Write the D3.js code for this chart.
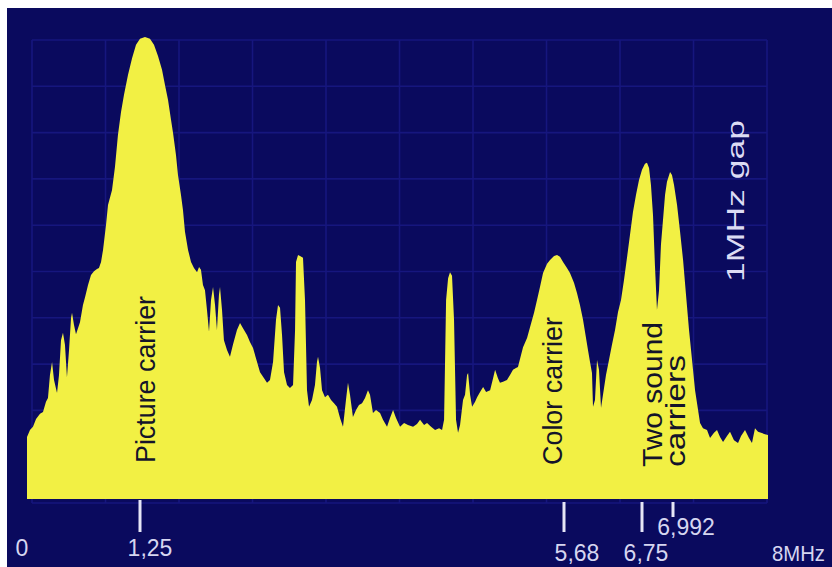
<!DOCTYPE html>
<html><head><meta charset="utf-8">
<script src="https://cdn.jsdelivr.net/npm/d3@7/dist/d3.min.js"></script>
<style>html,body{margin:0;padding:0;background:#fff;}svg{display:block;}</style>
</head><body>
<svg id="c" width="832" height="567"></svg>
<script>
// ---- data ----
const freqMHz = [0.000,0.033,0.066,0.100,0.144,0.177,0.210,0.232,0.254,0.277,0.299,0.332,0.354,0.376,0.398,0.420,0.442,0.465,0.487,0.498,0.520,0.542,0.564,0.586,0.619,0.642,0.675,0.708,0.741,0.774,0.796,0.819,0.841,0.874,0.896,0.940,0.973,1.006,1.040,1.073,1.117,1.162,1.206,1.250,1.302,1.354,1.396,1.438,1.480,1.511,1.543,1.574,1.595,1.626,1.647,1.678,1.699,1.720,1.752,1.783,1.814,1.846,1.867,1.887,1.908,1.929,1.950,1.971,1.992,2.013,2.034,2.054,2.075,2.086,2.107,2.127,2.159,2.190,2.221,2.263,2.295,2.326,2.368,2.399,2.431,2.473,2.504,2.546,2.577,2.608,2.640,2.671,2.692,2.713,2.734,2.755,2.786,2.817,2.849,2.870,2.880,2.901,2.922,2.953,2.974,2.995,3.016,3.047,3.078,3.099,3.110,3.131,3.152,3.183,3.214,3.246,3.277,3.308,3.340,3.371,3.402,3.423,3.444,3.475,3.507,3.538,3.570,3.601,3.632,3.653,3.684,3.716,3.758,3.789,3.831,3.862,3.894,3.925,3.967,4.009,4.050,4.103,4.144,4.176,4.218,4.249,4.291,4.333,4.375,4.406,4.427,4.448,4.469,4.489,4.510,4.531,4.552,4.573,4.594,4.625,4.646,4.667,4.678,4.699,4.720,4.751,4.772,4.803,4.835,4.866,4.908,4.939,4.960,4.990,5.011,5.043,5.084,5.116,5.147,5.178,5.199,5.231,5.252,5.294,5.325,5.367,5.398,5.429,5.461,5.503,5.534,5.576,5.607,5.638,5.670,5.721,5.762,5.817,5.858,5.899,5.941,5.982,6.009,6.037,6.064,6.078,6.105,6.133,6.160,6.188,6.215,6.256,6.297,6.338,6.380,6.421,6.462,6.503,6.544,6.585,6.626,6.668,6.709,6.750,6.773,6.789,6.805,6.820,6.836,6.851,6.867,6.883,6.898,6.914,6.930,6.945,6.969,6.984,7.003,7.035,7.067,7.099,7.130,7.162,7.194,7.226,7.258,7.279,7.310,7.353,7.385,7.427,7.459,7.491,7.523,7.565,7.597,7.639,7.682,7.714,7.756,7.798,7.830,7.862,7.894,7.926,7.968,8.000];
const level = [13.4,14.9,15.6,17.3,18.4,18.8,21.0,21.8,26.8,29.6,25.7,22.9,26.8,34.3,35.9,33.3,26.3,32.2,39.1,40.2,37.6,35.6,36.9,38.2,41.9,43.6,46.2,48.4,49.2,49.7,49.9,51.2,53.8,59.2,63.5,66.7,71.7,78.6,83.6,87.3,91.6,95.2,98.1,99.4,99.8,99.4,98.1,95.7,92.7,89.4,86.2,81.9,79.1,74.3,70.0,65.7,62.4,57.7,53.8,51.2,49.9,49.0,50.1,49.5,46.2,45.1,40.8,36.1,43.0,45.8,41.9,36.5,44.1,45.8,40.8,34.3,32.2,30.7,33.3,36.5,38.0,36.9,35.4,33.9,32.6,29.6,27.4,26.1,25.1,25.7,29.6,38.7,41.9,41.3,35.4,27.4,24.6,24.0,24.6,36.5,51.2,52.7,52.5,52.1,43.0,23.5,19.9,21.4,24.6,29.6,30.7,28.3,23.5,22.0,22.5,21.4,20.7,19.9,17.5,15.6,21.4,25.1,22.5,17.7,19.2,20.3,20.7,21.8,23.5,22.5,18.6,19.2,18.6,17.1,15.6,17.5,19.2,17.5,15.6,16.4,16.0,15.6,16.2,17.1,16.0,16.4,15.6,14.9,15.3,14.9,17.1,43.0,47.7,49.0,48.2,38.7,17.1,14.3,16.0,21.4,22.5,26.8,27.2,22.5,19.9,21.0,22.0,23.1,24.2,23.1,23.5,26.1,27.9,26.1,25.1,25.3,25.7,26.8,27.9,28.3,28.5,31.1,32.8,34.8,37.1,40.2,43.0,45.8,48.8,50.8,51.6,52.5,52.7,52.3,51.2,49.9,48.8,46.7,44.5,41.9,38.7,34.8,32.2,29.6,27.2,19.9,21.4,30.0,27.9,19.7,22.5,26.8,30.0,33.3,36.5,40.4,43.0,47.3,52.1,57.0,62.0,65.7,68.9,71.1,72.4,72.6,71.5,67.8,61.3,50.5,40.8,45.1,54.9,60.3,65.7,68.5,70.6,70.0,67.8,63.5,57.7,51.6,44.1,36.5,30.0,23.5,19.2,16.4,15.3,14.9,13.2,14.3,14.9,13.4,12.3,13.6,14.5,12.7,12.1,13.6,14.9,13.2,12.1,15.3,14.5,14.3,14.0,13.8];
const tickValues = [1.25, 5.68, 6.75, 6.992];
const tickLabels = ["1,25", "5,68", "6,75", "6,992"];
const endValues = [0, 8];
const endLabels = ["0", "8MHz"];
const carrierFreqs = [1.25, 5.68, 6.75, 6.75];
const carrierNames = ["Picture carrier", "Color carrier", "Two sound", "carriers"];
const gapNote = "1MHz gap";

// ---- layout ----
const W = 832, H = 567;
const FONT = "'Liberation Sans', Arial, Helvetica, sans-serif";
const svg = d3.select("#c");
const x = d3.scaleLinear().domain([0, 1.25, 5.68, 6.75, 6.992, 8]).range([27, 140, 564, 642, 673, 768]);
const y = d3.scaleLinear().domain([0, 100]).range([499, 36]);
const gx = d3.scaleLinear().domain([0, 10]).range([32, 767]);
const gy = d3.scaleLinear().domain([0, 10]).range([40, 503]);

// screen background
svg.append("rect").attr("x", 7).attr("y", 8).attr("width", W - 7).attr("height", H - 8).attr("fill", "#0a0a5e");

// graticule
const grid = svg.append("g").attr("stroke", "#16167e").attr("stroke-width", 1.6);
grid.selectAll("line.v").data(d3.range(0, 11)).join("line").attr("class", "v")
  .attr("x1", d => gx(d)).attr("x2", d => gx(d)).attr("y1", gy(0)).attr("y2", gy(10));
grid.selectAll("line.h").data(d3.range(0, 11)).join("line").attr("class", "h")
  .attr("y1", d => gy(d)).attr("y2", d => gy(d)).attr("x1", gx(0)).attr("x2", gx(10));

// spectrum
const pts = freqMHz.map((f, i) => [f, level[i]]);
const area = d3.area().x(d => x(d[0])).y0(y(0)).y1(d => y(d[1])).curve(d3.curveLinear);
svg.append("path").datum(pts).attr("d", area).attr("fill", "#f2f044");

// carrier annotations (rotated, dark)
const annOffsets = [{dx: 15, by: 463, len: 167}, {dx: -2, by: 465, len: 148}, {dx: 20, by: 467, len: 145}, {dx: 43, by: 467, len: 112}];
carrierNames.forEach((t, i) => {
  const o = annOffsets[i];
  svg.append("text")
    .attr("transform", `translate(${x(carrierFreqs[i]) + o.dx},${o.by}) rotate(-90)`)
    .attr("font-family", FONT).attr("font-size", 27).attr("fill", "#14142a")
    .attr("textLength", o.len).attr("lengthAdjust", "spacingAndGlyphs")
    .text(t);
});

// gap note
svg.append("text")
  .attr("transform", `translate(744,282) rotate(-90)`)
  .attr("font-family", FONT).attr("font-size", 23).attr("fill", "#dcdcf4")
  .attr("textLength", 162).attr("lengthAdjust", "spacingAndGlyphs")
  .text(gapNote);

// axis ticks
const tickLen = [32, 30, 30, 15];
const tickTop = [500, 502, 502, 502];
svg.selectAll("line.tick").data(tickValues).join("line").attr("class", "tick")
  .attr("x1", d => x(d)).attr("x2", d => x(d))
  .attr("y1", (d, i) => tickTop[i]).attr("y2", (d, i) => tickTop[i] + tickLen[i])
  .attr("stroke", "#e6e6f6").attr("stroke-width", 3);

const labDx = [10, 13, 4, 13];
const labY = [556, 561, 561, 535];
svg.selectAll("text.tl").data(tickValues).join("text").attr("class", "tl")
  .attr("x", (d, i) => x(d) + labDx[i]).attr("y", (d, i) => labY[i])
  .attr("text-anchor", "middle").attr("font-family", FONT).attr("font-size", 23).attr("fill", "#d6d6f0")
  .text((d, i) => tickLabels[i]);

// axis ends
svg.append("text").attr("x", x(endValues[0]) - 5).attr("y", 556).attr("text-anchor", "middle")
  .attr("font-family", FONT).attr("font-size", 23).attr("fill", "#d6d6f0").text(endLabels[0]);
svg.append("text").attr("x", x(endValues[1]) + 4).attr("y", 561).attr("text-anchor", "start")
  .attr("font-family", FONT).attr("font-size", 22).attr("fill", "#d6d6f0")
  .attr("textLength", 53).attr("lengthAdjust", "spacingAndGlyphs").text(endLabels[1]);
</script>
</body></html>
